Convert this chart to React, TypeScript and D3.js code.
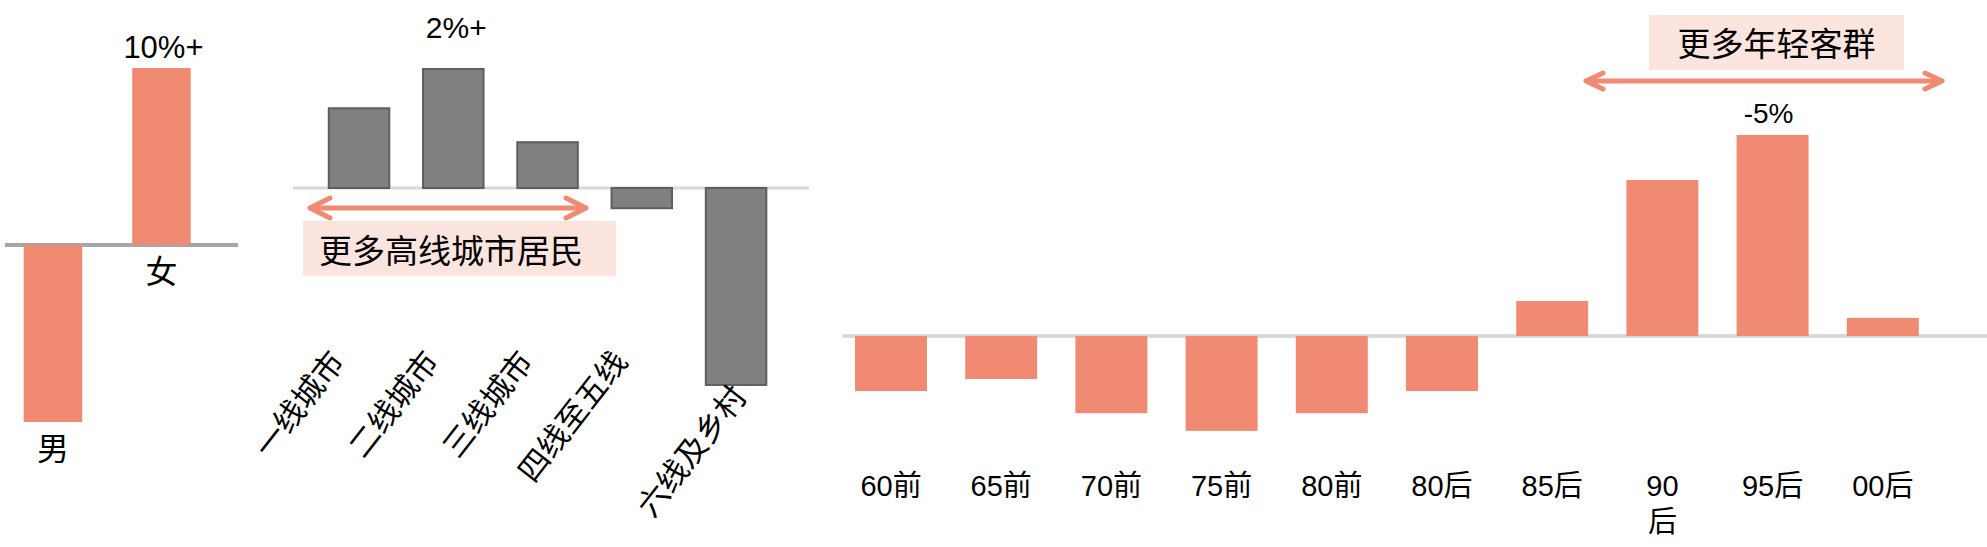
import React from "react";
import * as d3 from "d3";

// gender split
const genderCats = ["男", "女"];
const genderValues = [-10, 10];
const genderNote = "10%+";

// city tiers
const cityCats = ["一线城市", "二线城市", "三线城市", "四线至五线", "六线及乡村"];
const cityValues = [1.34, 2.0, 0.77, -0.34, -3.31];
const cityNote = "2%+";
const cityCallout = "更多高线城市居民";

// age groups
const ageCats = ["60前", "65前", "70前", "75前", "80前", "80后", "85后", "90后", "95后", "00后"];
const ageTickLabels = ["60前", "65前", "70前", "75前", "80前", "80后", "85后", "90\n后", "95后", "00后"];
const ageValues = [-1.37, -1.07, -1.92, -2.36, -1.92, -1.37, 0.87, 3.88, 5.0, 0.45];
const ageNote = "-5%";
const ageCallout = "更多年轻客群";

const W = 1987;
const H = 547;
const SALMON = "#F08A72";
const PINK = "#FCE5DF";
const FONT = "'Liberation Sans', Arial, 'Noto Sans CJK SC', sans-serif";

const DoubleArrow: React.FC<{ x1: number; x2: number; y: number; head: number; spread: number; w: number }> = ({
  x1,
  x2,
  y,
  head,
  spread,
  w,
}) => (
  <g stroke={SALMON} strokeWidth={w} strokeLinecap="round" strokeLinejoin="round" fill="none">
    <line x1={x1 + 2} y1={y} x2={x2 - 2} y2={y} />
    <polyline points={`${x1 + head},${y - spread} ${x1},${y} ${x1 + head},${y + spread}`} />
    <polyline points={`${x2 - head},${y - spread} ${x2},${y} ${x2 - head},${y + spread}`} />
  </g>
);

const GenderPanel = () => {
  const x = d3.scaleBand().domain(genderCats).range([2, 212.4]).paddingInner(0.461).paddingOuter(0.2);
  const y = d3.scaleLinear().domain([0, 10]).range([245, 68]);
  const bw = x.bandwidth();
  return (
    <g>
      <line x1={5} x2={238} y1={y(0)} y2={y(0)} stroke="#a6a6a6" strokeWidth={4} />
      {genderCats.map((c, i) => {
        const v = genderValues[i];
        const top = Math.min(y(0), y(v));
        const bottom = Math.max(y(0), y(v));
        return (
          <g key={c}>
            <rect x={x(c)!} y={top} width={bw} height={bottom - top} fill={SALMON} />
            <text x={x(c)! + bw / 2} y={bottom + 38} textAnchor="middle" fontSize={32}>
              {c}
            </text>
          </g>
        );
      })}
      <text x={x("女")! + bw / 2 + 2} y={y(10) - 10} textAnchor="middle" fontSize={31}>
        {genderNote}
      </text>
    </g>
  );
};

const CityPanel = () => {
  const x = d3.scaleBand().domain(cityCats).range([300.5, 794.6]).paddingInner(0.358).paddingOuter(0.3);
  const y = d3.scaleLinear().domain([0, 2]).range([188, 69]);
  const bw = x.bandwidth();
  const labelY = 362;
  return (
    <g>
      <line x1={293} x2={809} y1={y(0)} y2={y(0)} stroke="#d9d9d9" strokeWidth={3} />
      {cityCats.map((c, i) => {
        const v = cityValues[i];
        const top = Math.min(y(0), y(v));
        const bottom = Math.max(y(0), y(v));
        const cx = x(c)! + bw / 2;
        const pushed = bottom + 12 > labelY;
        const ax = pushed ? cx + 12 : cx - 13;
        const ay = pushed ? bottom + 12 : labelY;
        return (
          <g key={c}>
            <rect x={x(c)!} y={top} width={bw} height={bottom - top} fill="#808080" stroke="#5e5e5e" strokeWidth={2} />
            <text transform={`translate(${ax},${ay}) rotate(-52)`} textAnchor="end" fontSize={31}>
              {c}
            </text>
          </g>
        );
      })}
      <text x={x("二线城市")! + bw / 2 + 3} y={38} textAnchor="middle" fontSize={30}>
        {cityNote}
      </text>
      <DoubleArrow x1={310} x2={586} y={208} head={20} spread={10} w={5} />
      <rect x={303} y={221} width={313} height={55} fill={PINK} />
      <text x={319} y={263} fontSize={33}>
        {cityCallout}
      </text>
    </g>
  );
};

const AgePanel = () => {
  const x = d3.scaleBand().domain(ageCats).range([833, 1940.8]).paddingInner(0.347).paddingOuter(0.2);
  const y = d3.scaleLinear().domain([0, 5]).range([336, 135]);
  const bw = x.bandwidth();
  return (
    <g>
      <line x1={842} x2={W} y1={y(0)} y2={y(0)} stroke="#d9d9d9" strokeWidth={4} />
      {ageCats.map((c, i) => {
        const v = ageValues[i];
        const top = Math.min(y(0), y(v));
        const bottom = Math.max(y(0), y(v));
        const cx = x(c)! + bw / 2;
        const lines = ageTickLabels[i].split("\n");
        return (
          <g key={c}>
            <rect x={x(c)!} y={top} width={bw} height={bottom - top} fill={SALMON} />
            <text x={cx} y={496} textAnchor="middle" fontSize={29}>
              {lines.map((l, j) => (
                <tspan key={j} x={cx} dy={j === 0 ? 0 : 36}>
                  {l}
                </tspan>
              ))}
            </text>
          </g>
        );
      })}
      <text x={x("95后")! + bw / 2 - 4} y={y(5) - 12} textAnchor="middle" fontSize={28}>
        {ageNote}
      </text>
      <rect x={1649} y={15} width={255} height={55} fill={PINK} />
      <text x={1776.5} y={56} textAnchor="middle" fontSize={33}>
        {ageCallout}
      </text>
      <DoubleArrow x1={1586} x2={1942} y={81} head={17} spread={8} w={5} />
    </g>
  );
};

export default function App() {
  return (
    <svg
      width={W}
      height={H}
      viewBox={`0 0 ${W} ${H}`}
      style={{ position: "absolute", left: 0, top: 0, background: "#fff" }}
      fontFamily={FONT}
      fill="#000"
    >
      <GenderPanel />
      <CityPanel />
      <AgePanel />
    </svg>
  );
}
